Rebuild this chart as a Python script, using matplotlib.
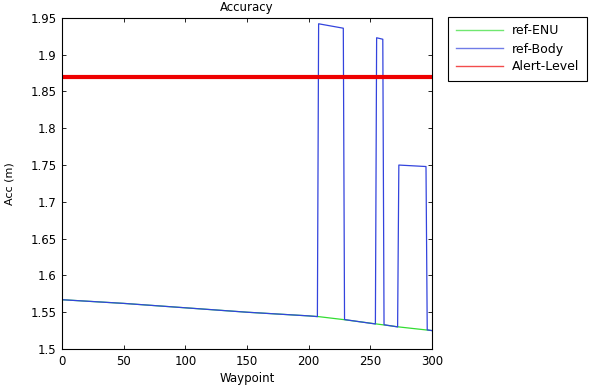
import matplotlib
matplotlib.use('Agg')
import matplotlib.pyplot as plt

plt.rcParams['font.family'] = ['DejaVu Sans']

# ref-ENU: плавная линия
enu_wp = [0, 50, 100, 150, 200, 208, 228, 255, 273, 300]
enu_acc = [1.567, 1.562, 1.556, 1.550, 1.545, 1.544, 1.540, 1.534, 1.530, 1.525]

# ref-Body: та же линия с выбросами
body_wp = [0, 50, 100, 150, 200, 207, 208, 228, 229, 254, 255, 260, 261, 272, 273, 295, 296, 300]
body_acc = [1.567, 1.562, 1.556, 1.550, 1.545, 1.544, 1.942, 1.936, 1.540, 1.534, 1.923, 1.921, 1.533, 1.530, 1.750, 1.748, 1.526, 1.525]

alert_level = 1.87

fig = plt.figure(figsize=(6.13, 3.85), dpi=100)
ax = fig.add_axes([0.101, 0.0935, 0.604, 0.86])

ax.plot(enu_wp, enu_acc, color='#33dd33', linewidth=0.9, label='ref-ENU')
ax.plot(body_wp, body_acc, color='#3344dd', linewidth=0.9, label='ref-Body')
ax.axhline(alert_level, color='#ee0000', linewidth=3, label='Alert-Level')

ax.set_xlim(0, 300)
ax.set_ylim(1.5, 1.95)
ax.set_xticks([0, 50, 100, 150, 200, 250, 300])
ax.set_yticks([1.5, 1.55, 1.6, 1.65, 1.7, 1.75, 1.8, 1.85, 1.9, 1.95])
ax.set_yticklabels(['1.5', '1.55', '1.6', '1.65', '1.7', '1.75', '1.8', '1.85', '1.9', '1.95'])
ax.tick_params(direction='in', top=True, right=True, labelsize=8.5, length=3, width=0.6, pad=4)
for s in ax.spines.values():
    s.set_linewidth(0.8)

ax.set_title('Accuracy', fontsize=8.5, pad=5)
ax.set_xlabel('Waypoint', fontsize=8.5, labelpad=3)
ax.set_ylabel('Acc (m)', fontsize=8, labelpad=11)

handles, labels = ax.get_legend_handles_labels()
leg = fig.legend(handles, labels, loc='upper left', bbox_to_anchor=(448 / 613, 1 - 17 / 385),
                 fontsize=9, fancybox=False, framealpha=1, edgecolor='black',
                 handlelength=3.8, handletextpad=0.7, borderaxespad=0, labelspacing=0.4,
                 borderpad=0.6)
leg.get_frame().set_linewidth(0.8)
for line in leg.get_lines():
    line.set_linewidth(1)
    line.set_alpha(0.7)

plt.savefig('out.png', dpi=100)
